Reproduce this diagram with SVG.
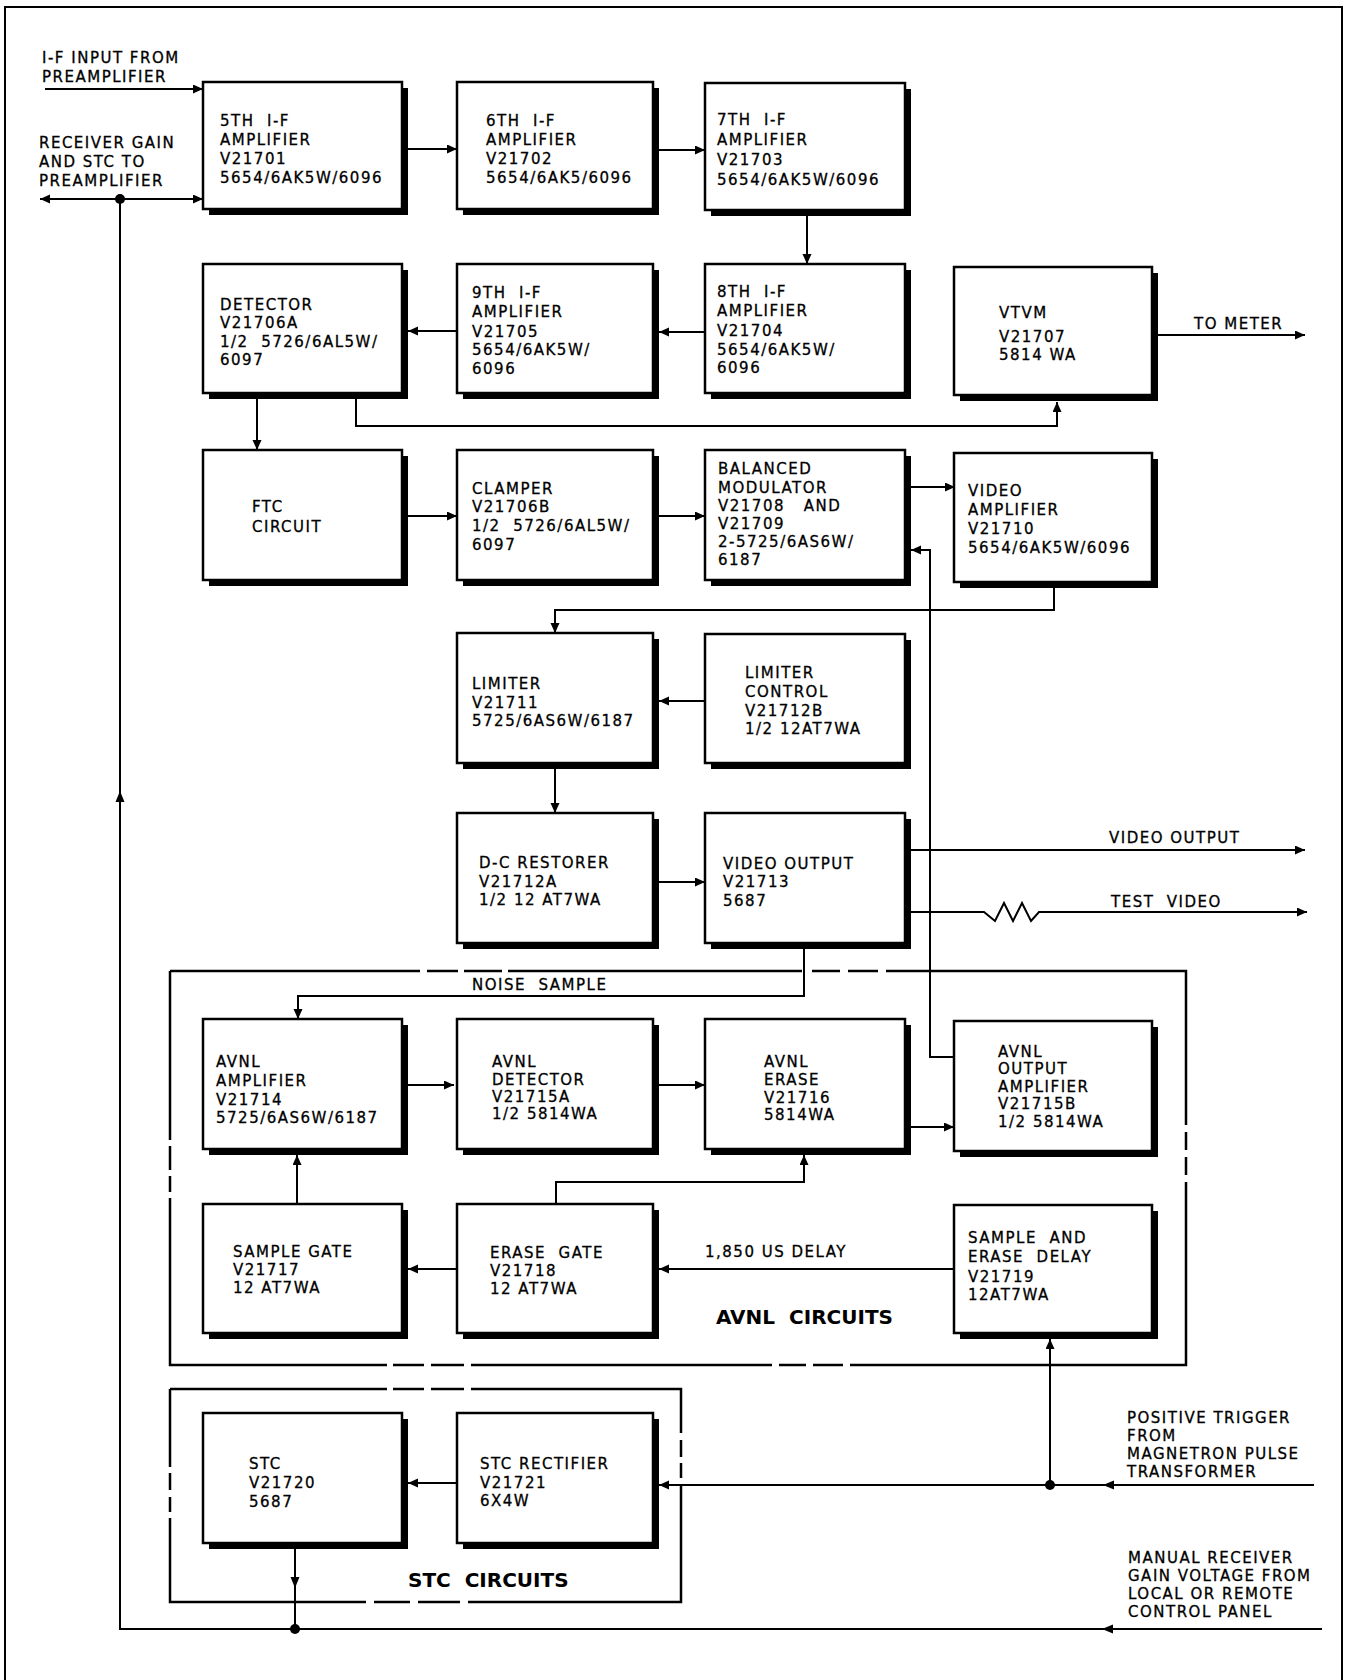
<svg xmlns="http://www.w3.org/2000/svg" width="1362" height="1680" viewBox="0 0 1362 1680">
<style>
.bg{fill:#fff}
.sh{fill:#000}
.box{fill:#fff;stroke:#000;stroke-width:2.5}
.t{font-family:"DejaVu Sans","Liberation Sans",sans-serif;font-size:15px;letter-spacing:1.5px;fill:#000;stroke:#000;stroke-width:0.3;white-space:pre}
.tb{font-family:"DejaVu Sans","Liberation Sans",sans-serif;font-size:20px;font-weight:bold;letter-spacing:0px;fill:#000;white-space:pre}
.w{fill:none;stroke:#000;stroke-width:2}
.d{fill:none;stroke:#000;stroke-width:2.5}
.fr{fill:none;stroke:#000;stroke-width:2}
.ah{fill:#000}
</style>
<defs>
<marker id="arr" markerUnits="userSpaceOnUse" markerWidth="11" markerHeight="10" refX="10" refY="4.5" orient="auto">
<path d="M0,0 L10,4.5 L0,9 z" fill="#000"/>
</marker>
</defs>
<rect class="bg" x="0" y="0" width="1362" height="1680"/>
<path class="fr" d="M5,1680 V7 H1342 V1680"/>

<g id="avnl-group">
<path class="d" d="M170,971 H420 M427,971 H458 M464,971 H502 M508,971 H802 M812,971 H840 M848,971 H878 M886,971 H1186 V1125 M1186,1132 V1150 M1186,1157 V1175 M1186,1182 V1365 H850 M843,1365 H813 M806,1365 H779 M772,1365 H471 M464,1365 H431 M424,1365 H393 M387,1365 H170 V1198 M170,1192 V1176 M170,1170 V1146 M170,1140 V971"/>
<text class="tb" x="716" y="1324">AVNL&#160; CIRCUITS</text>
</g>
<g id="stc-group">
<path class="d" d="M170,1389 H387 M393,1389 H424 M431,1389 H464 M471,1389 H681 V1433 M681,1440 V1457 M681,1463 V1478 M681,1484 V1602 H468 M460,1602 H418 M410,1602 H374 M366,1602 H170 V1518 M170,1512 V1497 M170,1490 V1473 M170,1467 V1389"/>
<text class="tb" x="408" y="1587">STC&#160; CIRCUITS</text>
</g>

<g id="connectors">
<path class="w" d="M45,89 H203" marker-end="url(#arr)"/>
<path class="w" d="M120,199 H203" marker-end="url(#arr)"/>
<path class="w" d="M120,199 H40" marker-end="url(#arr)"/>
<path class="w" d="M1322,1629 H120 V199"/>
<polygon class="ah" points="120,791 115.5,802 124.5,802"/>
<polygon class="ah" points="1102,1629 1113,1624.5 1113,1633.5"/>
<circle class="ah" cx="120" cy="199" r="5"/>
<path class="w" d="M408,149 H457" marker-end="url(#arr)"/>
<path class="w" d="M659,150 H705" marker-end="url(#arr)"/>
<path class="w" d="M807,216 V264" marker-end="url(#arr)"/>
<path class="w" d="M705,332 H659" marker-end="url(#arr)"/>
<path class="w" d="M457,331 H408" marker-end="url(#arr)"/>
<path class="w" d="M257,399 V450" marker-end="url(#arr)"/>
<path class="w" d="M356,399 V426 H1057 V402" marker-end="url(#arr)"/>
<path class="w" d="M1158,335 H1305" marker-end="url(#arr)"/>
<path class="w" d="M408,516 H457" marker-end="url(#arr)"/>
<path class="w" d="M659,516 H705" marker-end="url(#arr)"/>
<path class="w" d="M911,487 H955" marker-end="url(#arr)"/>
<path class="w" d="M1054,588 V610 H555 V633" marker-end="url(#arr)"/>
<path class="w" d="M705,701 H659" marker-end="url(#arr)"/>
<path class="w" d="M555,769 V813" marker-end="url(#arr)"/>
<path class="w" d="M657,882 H705" marker-end="url(#arr)"/>
<path class="w" d="M911,850 H1305" marker-end="url(#arr)"/>
<path class="w" d="M911,912 H984 L995,921 L1004,903 L1013,921 L1022,903 L1031,921 L1039,912 H1307" marker-end="url(#arr)"/>
<path class="w" d="M954,1057 H930 V550 H911" marker-end="url(#arr)"/>
<path class="w" d="M804,949 V996 H298 V1019" marker-end="url(#arr)"/>
<path class="w" d="M408,1085 H454" marker-end="url(#arr)"/>
<path class="w" d="M659,1085 H705" marker-end="url(#arr)"/>
<path class="w" d="M911,1127 H954" marker-end="url(#arr)"/>
<path class="w" d="M297,1204 V1155" marker-end="url(#arr)"/>
<path class="w" d="M556,1204 V1182 H804 V1155" marker-end="url(#arr)"/>
<path class="w" d="M954,1269 H659" marker-end="url(#arr)"/>
<path class="w" d="M457,1269 H408" marker-end="url(#arr)"/>
<path class="w" d="M1314,1485 H659" marker-end="url(#arr)"/>
<polygon class="ah" points="1103,1485 1114,1480.5 1114,1489.5"/>
<path class="w" d="M1050,1485 V1339" marker-end="url(#arr)"/>
<circle class="ah" cx="1050" cy="1485" r="5"/>
<path class="w" d="M457,1483 H408" marker-end="url(#arr)"/>
<path class="w" d="M295,1549 V1629"/>
<polygon class="ah" points="295,1588 290.5,1577 299.5,1577"/>
<circle class="ah" cx="295" cy="1629" r="5"/>
</g>

<g id="labels">
<text class="t"><tspan x="42" y="63">I-F INPUT FROM</tspan><tspan x="42" y="82">PREAMPLIFIER</tspan></text>
<text class="t"><tspan x="39" y="148">RECEIVER GAIN</tspan><tspan x="39" y="167">AND STC TO</tspan><tspan x="39" y="186">PREAMPLIFIER</tspan></text>
<text class="t" x="1194" y="329">TO METER</text>
<text class="t" x="1109" y="843">VIDEO OUTPUT</text>
<text class="t" x="1111" y="907">TEST&#160; VIDEO</text>
<text class="t" x="472" y="990">NOISE&#160; SAMPLE</text>
<text class="t" x="705" y="1257">1,850 US DELAY</text>
<text class="t"><tspan x="1127" y="1423">POSITIVE TRIGGER</tspan><tspan x="1127" y="1441">FROM</tspan><tspan x="1127" y="1459">MAGNETRON PULSE</tspan><tspan x="1127" y="1477">TRANSFORMER</tspan></text>
<text class="t"><tspan x="1128" y="1563">MANUAL RECEIVER</tspan><tspan x="1128" y="1581">GAIN VOLTAGE FROM</tspan><tspan x="1128" y="1599">LOCAL OR REMOTE</tspan><tspan x="1128" y="1617">CONTROL PANEL</tspan></text>
</g>

<g id="n-if5">
<rect class="sh" x="209" y="88" width="199" height="127"/>
<rect class="box" x="203" y="82" width="199" height="127"/>
<text class="t"><tspan x="220" y="126">5TH&#160; I-F</tspan><tspan x="220" y="145">AMPLIFIER</tspan><tspan x="220" y="164">V21701</tspan><tspan x="220" y="183">5654/6AK5W/6096</tspan></text>
</g>
<g id="n-if6">
<rect class="sh" x="463" y="88" width="196" height="127"/>
<rect class="box" x="457" y="82" width="196" height="127"/>
<text class="t"><tspan x="486" y="126">6TH&#160; I-F</tspan><tspan x="486" y="145">AMPLIFIER</tspan><tspan x="486" y="164">V21702</tspan><tspan x="486" y="183">5654/6AK5/6096</tspan></text>
</g>
<g id="n-if7">
<rect class="sh" x="711" y="89" width="200" height="127"/>
<rect class="box" x="705" y="83" width="200" height="127"/>
<text class="t"><tspan x="717" y="125">7TH&#160; I-F</tspan><tspan x="717" y="145">AMPLIFIER</tspan><tspan x="717" y="165">V21703</tspan><tspan x="717" y="185">5654/6AK5W/6096</tspan></text>
</g>
<g id="n-if8">
<rect class="sh" x="711" y="270" width="200" height="129"/>
<rect class="box" x="705" y="264" width="200" height="129"/>
<text class="t"><tspan x="717" y="297">8TH&#160; I-F</tspan><tspan x="717" y="316">AMPLIFIER</tspan><tspan x="717" y="336">V21704</tspan><tspan x="717" y="355">5654/6AK5W/</tspan><tspan x="717" y="373">6096</tspan></text>
</g>
<g id="n-if9">
<rect class="sh" x="463" y="270" width="196" height="129"/>
<rect class="box" x="457" y="264" width="196" height="129"/>
<text class="t"><tspan x="472" y="298">9TH&#160; I-F</tspan><tspan x="472" y="317">AMPLIFIER</tspan><tspan x="472" y="337">V21705</tspan><tspan x="472" y="355">5654/6AK5W/</tspan><tspan x="472" y="374">6096</tspan></text>
</g>
<g id="n-detector">
<rect class="sh" x="209" y="270" width="199" height="129"/>
<rect class="box" x="203" y="264" width="199" height="129"/>
<text class="t"><tspan x="220" y="310">DETECTOR</tspan><tspan x="220" y="328">V21706A</tspan><tspan x="220" y="347">1/2&#160; 5726/6AL5W/</tspan><tspan x="220" y="365">6097</tspan></text>
</g>
<g id="n-vtvm">
<rect class="sh" x="960" y="273" width="198" height="128"/>
<rect class="box" x="954" y="267" width="198" height="128"/>
<text class="t"><tspan x="999" y="318">VTVM</tspan><tspan x="999" y="342">V21707</tspan><tspan x="999" y="360">5814 WA</tspan></text>
</g>
<g id="n-ftc">
<rect class="sh" x="209" y="456" width="199" height="130"/>
<rect class="box" x="203" y="450" width="199" height="130"/>
<text class="t"><tspan x="252" y="512">FTC</tspan><tspan x="252" y="532">CIRCUIT</tspan></text>
</g>
<g id="n-clamper">
<rect class="sh" x="463" y="456" width="196" height="130"/>
<rect class="box" x="457" y="450" width="196" height="130"/>
<text class="t"><tspan x="472" y="494">CLAMPER</tspan><tspan x="472" y="512">V21706B</tspan><tspan x="472" y="531">1/2&#160; 5726/6AL5W/</tspan><tspan x="472" y="550">6097</tspan></text>
</g>
<g id="n-balmod">
<rect class="sh" x="711" y="456" width="200" height="130"/>
<rect class="box" x="705" y="450" width="200" height="130"/>
<text class="t"><tspan x="718" y="474">BALANCED</tspan><tspan x="718" y="493">MODULATOR</tspan><tspan x="718" y="511">V21708&#160;&#160; AND</tspan><tspan x="718" y="529">V21709</tspan><tspan x="718" y="547">2-5725/6AS6W/</tspan><tspan x="718" y="565">6187</tspan></text>
</g>
<g id="n-vidamp">
<rect class="sh" x="960" y="459" width="198" height="129"/>
<rect class="box" x="954" y="453" width="198" height="129"/>
<text class="t"><tspan x="968" y="496">VIDEO</tspan><tspan x="968" y="515">AMPLIFIER</tspan><tspan x="968" y="534">V21710</tspan><tspan x="968" y="553">5654/6AK5W/6096</tspan></text>
</g>
<g id="n-limiter">
<rect class="sh" x="463" y="639" width="196" height="130"/>
<rect class="box" x="457" y="633" width="196" height="130"/>
<text class="t"><tspan x="472" y="689">LIMITER</tspan><tspan x="472" y="708">V21711</tspan><tspan x="472" y="726">5725/6AS6W/6187</tspan></text>
</g>
<g id="n-limctrl">
<rect class="sh" x="711" y="640" width="200" height="129"/>
<rect class="box" x="705" y="634" width="200" height="129"/>
<text class="t"><tspan x="745" y="678">LIMITER</tspan><tspan x="745" y="697">CONTROL</tspan><tspan x="745" y="716">V21712B</tspan><tspan x="745" y="734">1/2 12AT7WA</tspan></text>
</g>
<g id="n-dcrest">
<rect class="sh" x="463" y="819" width="196" height="130"/>
<rect class="box" x="457" y="813" width="196" height="130"/>
<text class="t"><tspan x="479" y="868">D-C RESTORER</tspan><tspan x="479" y="887">V21712A</tspan><tspan x="479" y="905">1/2 12 AT7WA</tspan></text>
</g>
<g id="n-vidout">
<rect class="sh" x="711" y="819" width="200" height="130"/>
<rect class="box" x="705" y="813" width="200" height="130"/>
<text class="t"><tspan x="723" y="869">VIDEO OUTPUT</tspan><tspan x="723" y="887">V21713</tspan><tspan x="723" y="906">5687</tspan></text>
</g>
<g id="n-avnlamp">
<rect class="sh" x="209" y="1025" width="199" height="130"/>
<rect class="box" x="203" y="1019" width="199" height="130"/>
<text class="t"><tspan x="216" y="1067">AVNL</tspan><tspan x="216" y="1086">AMPLIFIER</tspan><tspan x="216" y="1105">V21714</tspan><tspan x="216" y="1123">5725/6AS6W/6187</tspan></text>
</g>
<g id="n-avnldet">
<rect class="sh" x="463" y="1025" width="196" height="130"/>
<rect class="box" x="457" y="1019" width="196" height="130"/>
<text class="t"><tspan x="492" y="1067">AVNL</tspan><tspan x="492" y="1085">DETECTOR</tspan><tspan x="492" y="1102">V21715A</tspan><tspan x="492" y="1119">1/2 5814WA</tspan></text>
</g>
<g id="n-avnlerase">
<rect class="sh" x="711" y="1025" width="200" height="130"/>
<rect class="box" x="705" y="1019" width="200" height="130"/>
<text class="t"><tspan x="764" y="1067">AVNL</tspan><tspan x="764" y="1085">ERASE</tspan><tspan x="764" y="1103">V21716</tspan><tspan x="764" y="1120">5814WA</tspan></text>
</g>
<g id="n-avnlout">
<rect class="sh" x="960" y="1027" width="198" height="130"/>
<rect class="box" x="954" y="1021" width="198" height="130"/>
<text class="t"><tspan x="998" y="1057">AVNL</tspan><tspan x="998" y="1074">OUTPUT</tspan><tspan x="998" y="1092">AMPLIFIER</tspan><tspan x="998" y="1109">V21715B</tspan><tspan x="998" y="1127">1/2 5814WA</tspan></text>
</g>
<g id="n-samplegate">
<rect class="sh" x="209" y="1210" width="199" height="129"/>
<rect class="box" x="203" y="1204" width="199" height="129"/>
<text class="t"><tspan x="233" y="1257">SAMPLE GATE</tspan><tspan x="233" y="1275">V21717</tspan><tspan x="233" y="1293">12 AT7WA</tspan></text>
</g>
<g id="n-erasegate">
<rect class="sh" x="463" y="1210" width="196" height="129"/>
<rect class="box" x="457" y="1204" width="196" height="129"/>
<text class="t"><tspan x="490" y="1258">ERASE&#160; GATE</tspan><tspan x="490" y="1276">V21718</tspan><tspan x="490" y="1294">12 AT7WA</tspan></text>
</g>
<g id="n-delay">
<rect class="sh" x="960" y="1211" width="198" height="128"/>
<rect class="box" x="954" y="1205" width="198" height="128"/>
<text class="t"><tspan x="968" y="1243">SAMPLE&#160; AND</tspan><tspan x="968" y="1262">ERASE&#160; DELAY</tspan><tspan x="968" y="1282">V21719</tspan><tspan x="968" y="1300">12AT7WA</tspan></text>
</g>
<g id="n-stc">
<rect class="sh" x="209" y="1419" width="199" height="130"/>
<rect class="box" x="203" y="1413" width="199" height="130"/>
<text class="t"><tspan x="249" y="1469">STC</tspan><tspan x="249" y="1488">V21720</tspan><tspan x="249" y="1507">5687</tspan></text>
</g>
<g id="n-stcrect">
<rect class="sh" x="463" y="1419" width="196" height="130"/>
<rect class="box" x="457" y="1413" width="196" height="130"/>
<text class="t"><tspan x="480" y="1469">STC RECTIFIER</tspan><tspan x="480" y="1488">V21721</tspan><tspan x="480" y="1506">6X4W</tspan></text>
</g>
</svg>
